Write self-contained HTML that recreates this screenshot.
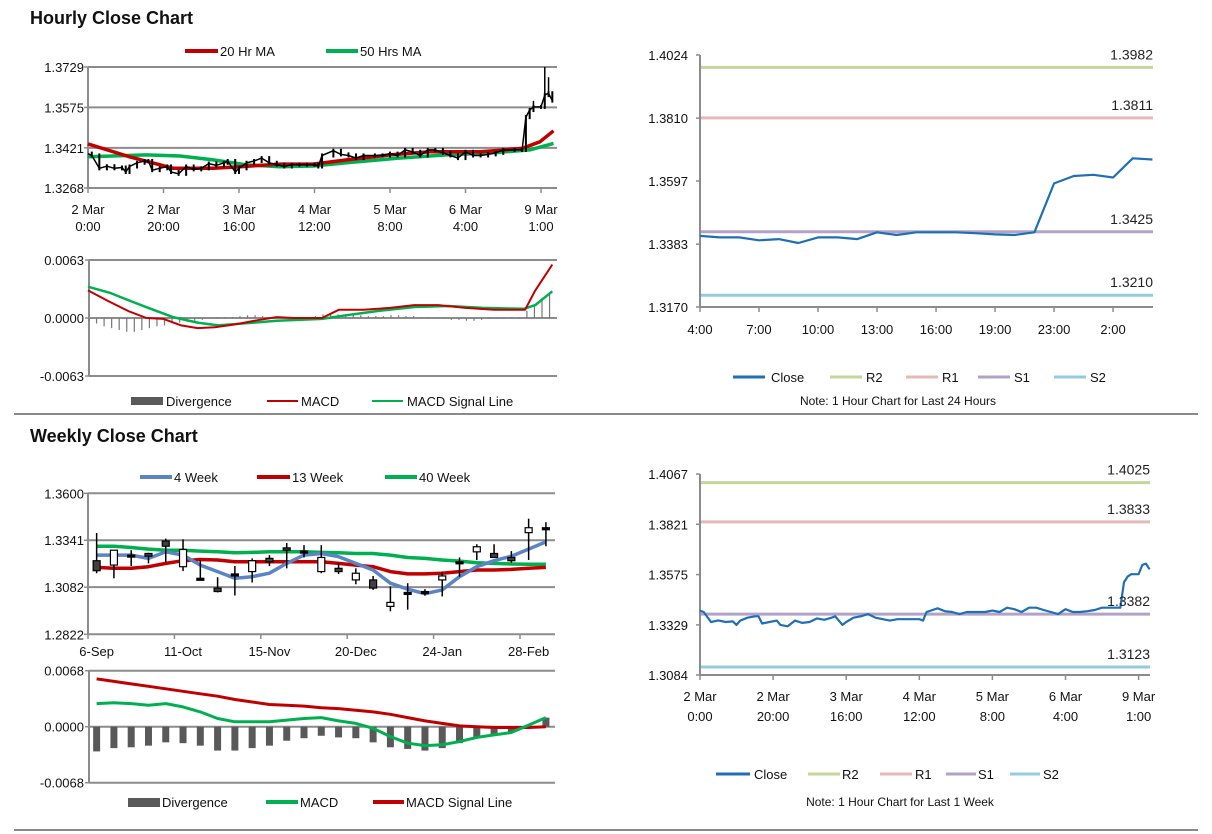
<!DOCTYPE html>
<html><head><meta charset="utf-8"><title>Hourly and Weekly Close Charts</title>
<style>
html,body{margin:0;padding:0;background:#fff;}
svg{display:block;font-family:"Liberation Sans",Arial,sans-serif;}
.tk{font-size:13px;fill:#111;}
.lg{font-size:13px;fill:#111;}
.ttl{font-size:18px;font-weight:bold;fill:#111;}
.lv{font-size:14px;fill:#222;}
</style></head>
<body>
<svg id="chart" width="1212" height="834" viewBox="0 0 1212 834" xmlns="http://www.w3.org/2000/svg">
<rect x="0" y="0" width="1212" height="834" fill="#fff"/>
<text class="ttl" x="30" y="24">Hourly Close Chart</text>
<text class="ttl" x="30" y="442">Weekly Close Chart</text>
<line x1="14" y1="414" x2="1198" y2="414" stroke="#8a8a8a" stroke-width="2"/>
<line x1="14" y1="830" x2="1198" y2="830" stroke="#8a8a8a" stroke-width="2"/>

<!-- legends -->
<g>
<line x1="185" y1="51" x2="218" y2="51" stroke="#c00000" stroke-width="4"/><text class="lg" x="220" y="56">20 Hr MA</text>
<line x1="326" y1="51" x2="358" y2="51" stroke="#00b050" stroke-width="4"/><text class="lg" x="360" y="56">50 Hrs MA</text>
</g>
<g>
<rect x="131" y="397" width="32" height="8" fill="#5a5a5a"/><text class="lg" x="166" y="406">Divergence</text>
<line x1="267" y1="401" x2="298" y2="401" stroke="#c00000" stroke-width="2"/><text class="lg" x="301" y="406">MACD</text>
<line x1="372" y1="401" x2="403" y2="401" stroke="#00b050" stroke-width="2"/><text class="lg" x="407" y="406">MACD Signal Line</text>
</g>
<g>
<line x1="140" y1="477" x2="172" y2="477" stroke="#5b84c4" stroke-width="4"/><text class="lg" x="174" y="482">4 Week</text>
<line x1="257" y1="477" x2="290" y2="477" stroke="#c00000" stroke-width="4"/><text class="lg" x="292" y="482">13 Week</text>
<line x1="385" y1="477" x2="417" y2="477" stroke="#00b050" stroke-width="4"/><text class="lg" x="419" y="482">40 Week</text>
</g>
<g>
<rect x="128" y="798" width="32" height="9" fill="#5a5a5a"/><text class="lg" x="162" y="807">Divergence</text>
<line x1="266" y1="802" x2="298" y2="802" stroke="#00b050" stroke-width="4"/><text class="lg" x="300" y="807">MACD</text>
<line x1="373" y1="802" x2="404" y2="802" stroke="#c00000" stroke-width="4"/><text class="lg" x="406" y="807">MACD Signal Line</text>
</g>
<g>
<line x1="733" y1="377" x2="765" y2="377" stroke="#1f6fb5" stroke-width="3"/><text class="lg" x="771" y="382">Close</text>
<line x1="830" y1="377" x2="862" y2="377" stroke="#c3d69b" stroke-width="3"/><text class="lg" x="866" y="382">R2</text>
<line x1="906" y1="377" x2="938" y2="377" stroke="#e6b9b8" stroke-width="3"/><text class="lg" x="942" y="382">R1</text>
<line x1="978" y1="377" x2="1010" y2="377" stroke="#b3a2c7" stroke-width="3"/><text class="lg" x="1014" y="382">S1</text>
<line x1="1054" y1="377" x2="1086" y2="377" stroke="#93cddd" stroke-width="3"/><text class="lg" x="1090" y="382">S2</text>
<text x="898" y="405" font-size="12" text-anchor="middle" fill="#111">Note: 1 Hour Chart for Last 24 Hours</text>
</g>
<g>
<line x1="716" y1="774" x2="750" y2="774" stroke="#1f6fb5" stroke-width="3"/><text class="lg" x="754" y="779">Close</text>
<line x1="808" y1="774" x2="840" y2="774" stroke="#c3d69b" stroke-width="3"/><text class="lg" x="842" y="779">R2</text>
<line x1="880" y1="774" x2="912" y2="774" stroke="#e6b9b8" stroke-width="3"/><text class="lg" x="915" y="779">R1</text>
<line x1="946" y1="774" x2="976" y2="774" stroke="#b3a2c7" stroke-width="3"/><text class="lg" x="978" y="779">S1</text>
<line x1="1010" y1="774" x2="1040" y2="774" stroke="#93cddd" stroke-width="3"/><text class="lg" x="1043" y="779">S2</text>
<text x="900" y="806" font-size="12" text-anchor="middle" fill="#111">Note: 1 Hour Chart for  Last 1 Week</text>
</g>
</svg>
<script>
// ===== data =====
const hourTickHours=[0,20,40,60,80,100,120];
const hourTickDays=['2 Mar','2 Mar','3 Mar','4 Mar','5 Mar','6 Mar','9 Mar'];
const hourTickTimes=['0:00','20:00','16:00','12:00','8:00','4:00','1:00'];
const weekHours=[0,1,3,5,7,9,10,11,13,15,16,17,19,21,22,24,26,28,30,32,34,36,37,39,40,42,44,46,48,50,52,54,56,58,60,61,62,65,67,69,71,73,76,78,80,82,84,86,88,90,92,94,96,98,100,102,104,106,108,110,113,115,116,117,118,120,121,122,123];
const weekClose=[1.3399,1.3392,1.3343,1.3351,1.3343,1.3346,1.3329,1.3350,1.3364,1.3371,1.3371,1.3336,1.3343,1.3350,1.3329,1.3322,1.3350,1.3339,1.3343,1.3361,1.3354,1.3364,1.3371,1.3329,1.3343,1.3364,1.3371,1.3382,1.3364,1.3357,1.3350,1.3357,1.3357,1.3357,1.3357,1.3350,1.3392,1.3410,1.3396,1.3392,1.3382,1.3392,1.3392,1.3392,1.3399,1.3392,1.3413,1.3406,1.3392,1.3413,1.3413,1.3402,1.3392,1.3382,1.3406,1.3392,1.3392,1.3396,1.3402,1.3413,1.3413,1.3413,1.3538,1.3565,1.3577,1.3577,1.3622,1.3629,1.3601];
const peakHours=[118,121,122];
const peakHighs=[1.3600,1.3729,1.3690];
const ma20Hours=[0,11,22.6,33.2,40.3,50.9,59.7,68.5,80,90.6,104,115,119.7,123.3];
const ma20Values=[1.3436,1.3387,1.3343,1.3343,1.3349,1.3359,1.3359,1.3375,1.3394,1.3406,1.3406,1.3419,1.3444,1.3486];
const ma50Hours=[0,15.5,24.4,33.2,42,50.9,59.7,68.5,81.8,95,108,117,123.3];
const ma50Values=[1.3387,1.3394,1.3390,1.3375,1.3356,1.3349,1.3352,1.3364,1.3381,1.3394,1.3403,1.3413,1.3438];
const hMacdHours=[0,5.5,11,15.5,20,24.7,29,33.6,39,45.5,50,54.6,62,66.5,73,80,86.4,92.8,100,107.6,115.8,118.5,123];
const hMacdValues=[0.0030,0.0018,0.0007,0.0000,-0.0001,-0.0008,-0.0011,-0.0010,-0.0007,-0.0002,0.0001,0.0000,0.0000,0.0009,0.0009,0.0011,0.0014,0.0014,0.0011,0.0009,0.0009,0.0030,0.0058];
const hSignalHours=[0,6,11.5,16,22.5,29,34.5,41,50,62,68.5,77.5,86.5,95.5,104.5,115.5,118.5,123];
const hSignalValues=[0.0034,0.0027,0.0018,0.0011,0.0001,-0.0005,-0.0008,-0.0006,-0.0003,-0.0001,0.0003,0.0008,0.0012,0.0013,0.0011,0.0010,0.0014,0.0029];
const hDivergence=[-0.0003,-0.0006,-0.0009,-0.0011,-0.0013,-0.0015,-0.0015,-0.0013,-0.0011,-0.0009,-0.0008,-0.0006,-0.0005,-0.0004,-0.0003,-0.0002,-0.0001,0.0001,0.0001,0.0001,0.0002,0.0003,0.0003,0.0002,0.0001,0.0000,0.0001,0.0001,0.0001,0.0001,0.0002,0.0004,0.0005,0.0004,0.0004,0.0003,0.0003,0.0002,0.0002,0.0002,0.0003,0.0003,0.0002,0.0002,0.0001,0.0001,0.0000,-0.0001,-0.0002,-0.0002,-0.0003,-0.0003,-0.0002,-0.0001,0.0000,0.0000,0.0001,0.0001,0.0008,0.0015,0.0022,0.0028];
const dayTimes=['4:00','7:00','10:00','13:00','16:00','19:00','23:00','2:00'];
const dayClose=[1.3411,1.3406,1.3406,1.3396,1.3400,1.3387,1.3406,1.3406,1.3400,1.3423,1.3414,1.3423,1.3423,1.3423,1.3420,1.3416,1.3414,1.3423,1.3589,1.3614,1.3618,1.3609,1.3674,1.3670];
const dayLevels=[1.3982,1.3811,1.3425,1.3210];
const weekLevels=[1.4025,1.3833,1.3382,1.3123];
const levelColors=['#c3d69b','#e6b9b8','#b3a2c7','#93cddd'];
const weeklyLabels=['6-Sep','11-Oct','15-Nov','20-Dec','24-Jan','28-Feb'];
const wOpen=[1.3228,1.3204,1.3259,1.3268,1.3337,1.3195,1.3131,1.3077,1.3155,1.3168,1.3241,1.3299,1.3281,1.3168,1.3186,1.3122,1.3122,1.2976,1.3053,1.3058,1.3122,1.3222,1.3277,1.3268,1.3246,1.3383,1.3410];
const wClose=[1.3173,1.3286,1.3259,1.3253,1.3308,1.3290,1.3131,1.3058,1.3155,1.3228,1.3222,1.3286,1.3281,1.3246,1.3168,1.3159,1.3077,1.2998,1.3053,1.3058,1.3144,1.3222,1.3305,1.3246,1.3228,1.3410,1.3410];
const wHigh=[1.3381,1.3286,1.3286,1.3272,1.3350,1.3346,1.3232,1.3137,1.3199,1.3241,1.3259,1.3326,1.3314,1.3314,1.3217,1.3186,1.3144,1.3086,1.3104,1.3071,1.3168,1.3246,1.3319,1.3319,1.3281,1.3460,1.3441];
const wLow=[1.3159,1.3131,1.3199,1.3213,1.3222,1.3171,1.3122,1.3053,1.3036,1.3108,1.3199,1.3186,1.3246,1.3159,1.3155,1.3098,1.3067,1.2949,1.2958,1.3035,1.3031,1.3140,1.3232,1.3246,1.3217,1.3232,1.3308];
const ma4=[1.3259,1.3259,1.3259,1.3241,1.3277,1.3259,1.3204,1.3168,1.3131,1.3140,1.3159,1.3213,1.3259,1.3268,1.3250,1.3213,1.3177,1.3104,1.3071,1.3046,1.3067,1.3140,1.3195,1.3228,1.3253,1.3292,1.3332];
const ma13=[1.3191,1.3186,1.3186,1.3195,1.3213,1.3228,1.3235,1.3232,1.3222,1.3222,1.3222,1.3222,1.3222,1.3222,1.3213,1.3204,1.3195,1.3168,1.3155,1.3155,1.3159,1.3168,1.3177,1.3177,1.3180,1.3186,1.3191];
const ma40=[1.3308,1.3308,1.3301,1.3292,1.3286,1.3286,1.3281,1.3277,1.3272,1.3274,1.3277,1.3277,1.3277,1.3274,1.3272,1.3268,1.3268,1.3259,1.3246,1.3241,1.3232,1.3226,1.3217,1.3213,1.3210,1.3208,1.3208];
const wDivergence=[-0.0030,-0.0026,-0.0025,-0.0023,-0.0019,-0.0020,-0.0023,-0.0029,-0.0029,-0.0026,-0.0023,-0.0017,-0.0014,-0.0011,-0.0013,-0.0014,-0.0019,-0.0025,-0.0027,-0.0029,-0.0026,-0.0020,-0.0014,-0.0010,-0.0006,-0.0002,0.0011];
const wMacd=[0.0028,0.0029,0.0028,0.0026,0.0028,0.0024,0.0018,0.0010,0.0006,0.0006,0.0006,0.0008,0.0010,0.0011,0.0007,0.0004,-0.0002,-0.0012,-0.0020,-0.0023,-0.0022,-0.0018,-0.0013,-0.0010,-0.0007,0.0002,0.0011];
const wSignal=[0.0058,0.0055,0.0052,0.0049,0.0046,0.0043,0.0040,0.0037,0.0033,0.0030,0.0027,0.0026,0.0025,0.0023,0.0022,0.0020,0.0018,0.0015,0.0011,0.0007,0.0004,0.0001,0.0000,-0.0001,-0.0001,-0.0001,0.0000];
const p1Ticks=[1.3729,1.3575,1.3421,1.3268];
const m1Ticks=[0.0063,0,-0.0063];
const p2Ticks=[1.4024,1.3810,1.3597,1.3383,1.3170];
const wTicks=[1.3600,1.3341,1.3082,1.2822];
const m2Ticks=[0.0068,0,-0.0068];
const p3Ticks=[1.4067,1.3821,1.3575,1.3329,1.3084];

// ===== scales =====
const xH1=h=>88+h*3.775;
const yP1=v=>188-(v-1.3268)/0.0461*121;
const yM1=v=>318-v/0.0063*58;
const xD=i=>700+i*19.67;
const yP2=v=>307-(v-1.3170)/0.0854*252;
const xW=i=>88+(i+0.5)*17.28;
const yW=v=>634.3-(v-1.2822)/0.0778*141;
const yM2=v=>726.7-v/0.0068*56;
const xH3=h=>700+h*3.655;
const yP3=v=>675-(v-1.3084)/0.0983*201;

const NS='http://www.w3.org/2000/svg';
const root=document.getElementById('chart');
function mk(tag,attrs){const e=document.createElementNS(NS,tag);for(const k in attrs)e.setAttribute(k,attrs[k]);root.appendChild(e);return e;}
function pts(xs,ys){return xs.map((x,i)=>x.toFixed(1)+','+ys[i].toFixed(1)).join(' ');}
function fmt(v){return v.toFixed(4);}

function yAxis(ticks,ysc,x0,x1,labelX,grid,name){
  ticks.forEach(t=>{
    const y=ysc(t);
    if(grid){
      const g=mk('line',{x1:x0,y1:y,x2:x1,y2:y,stroke:'#8c8c8c','stroke-width':2});
      
      
    }
    const tk=mk('line',{x1:x0-4,y1:y,x2:x0,y2:y,stroke:'#8c8c8c','stroke-width':1.5});
    
    
    const tx=mk('text',{x:labelX,y:y+5,'text-anchor':'end','class':'tk'});
    tx.textContent=fmt(t);
    
    
  });
  const ax=mk('line',{x1:x0,y1:ysc(ticks[0]),x2:x0,y2:ysc(ticks[ticks.length-1]),stroke:'#8c8c8c','stroke-width':2});
  
  
}
function line(xs,ys,color,w,name){
  const p=mk('polyline',{points:pts(xs,ys),fill:'none',stroke:color,'stroke-width':w,'stroke-linejoin':'round'});
  
  
  return p;
}

// ===== Chart 1: hourly candles with MAs =====
yAxis(p1Ticks,yP1,88,557,84,true,'hourly-price');
hourTickHours.forEach((h,i)=>{
  const x=xH1(h);
  const t=mk('line',{x1:x,y1:188,x2:x,y2:193,stroke:'#8c8c8c','stroke-width':1.5});
  
  
  const a=mk('text',{x:x,y:214,'text-anchor':'middle','class':'tk'});a.textContent=hourTickDays[i];
  
  
  const b=mk('text',{x:x,y:231,'text-anchor':'middle','class':'tk'});b.textContent=hourTickTimes[i];
  
  
});
line(ma50Hours.map(xH1),ma50Values.map(yP1),'#00b050',3.5,'ma50-line');
line(ma20Hours.map(xH1),ma20Values.map(yP1),'#c00000',3.5,'ma20-line');
weekHours.forEach((h,i)=>{
  if(i===0)return;
  const x=xH1(h), ya=yP1(weekClose[i-1]), yb=yP1(weekClose[i]);
  const c=mk('line',{x1:x,y1:Math.min(ya,yb)-2,x2:x,y2:Math.max(ya,yb)+2,stroke:'#000','stroke-width':2});
  
  
});
line(weekHours.map(xH1),weekClose.map(yP1),'#000',1.5,'hourly-close-trace');
peakHours.forEach((h,i)=>{
  const k=weekHours.indexOf(h);
  const c=mk('line',{x1:xH1(h),y1:yP1(peakHighs[i]),x2:xH1(h),y2:yP1(weekClose[k]),stroke:'#000','stroke-width':1.5});
  
  
});

// ===== Chart 2: hourly MACD =====
yAxis(m1Ticks,yM1,89,557,84,true,'hourly-macd');
hDivergence.forEach((v,i)=>{
  const x=xH1(i*2)+1, y0=yM1(0), y1=yM1(v);
  const b=mk('rect',{x:x-0.6,y:Math.min(y0,y1),width:1.2,height:Math.max(0.5,Math.abs(y1-y0)),fill:'#777'});
  
  
});
line(hSignalHours.map(xH1),hSignalValues.map(yM1),'#00b050',2.5,'hourly-macd-signal-line');
line(hMacdHours.map(xH1),hMacdValues.map(yM1),'#c00000',2,'hourly-macd-line');

// ===== Chart 3: last 24 hours =====
(function(){
  p2Ticks.forEach(t=>{
    const y=yP2(t);
    const tk=mk('line',{x1:696,y1:y,x2:700,y2:y,stroke:'#8c8c8c','stroke-width':1.5});
    
    
    const tx=mk('text',{x:688,y:y+5,'text-anchor':'end','class':'tk'});tx.textContent=fmt(t);
    
    
  });
  const ax=mk('line',{x1:700,y1:55,x2:700,y2:307,stroke:'#8c8c8c','stroke-width':2});
  
  
  const bx=mk('line',{x1:700,y1:307,x2:1153,y2:307,stroke:'#8c8c8c','stroke-width':2});
  
  
  dayTimes.forEach((t,i)=>{
    const x=xD(i*3);
    const tk=mk('line',{x1:x,y1:307,x2:x,y2:312,stroke:'#8c8c8c','stroke-width':1.5});
    
    
    const tx=mk('text',{x:x,y:334,'text-anchor':'middle','class':'tk'});tx.textContent=t;
    
    
  });
  dayLevels.forEach((v,i)=>{
    const y=yP2(v);
    const l=mk('line',{x1:701,y1:y,x2:1153,y2:y,stroke:levelColors[i],'stroke-width':3});
    
    
  });
  line(dayClose.map((v,i)=>xD(i)),dayClose.map(yP2),'#1f6fb5',2.2,'day-close-line');
  dayLevels.forEach((v,i)=>{
    const tx=mk('text',{x:1153,y:yP2(v)-8,'text-anchor':'end','class':'lv'});tx.textContent=fmt(v);
    
    
  });
})();

// ===== Chart 4: weekly candles =====
yAxis(wTicks,yW,88,555,84,true,'weekly-price');
for(let i=0;i<=27;i+=5){
  const x=88+i*17.28;
  const t=mk('line',{x1:x,y1:634,x2:x,y2:639,stroke:'#8c8c8c','stroke-width':1.5});
  
  
}
weeklyLabels.forEach((l,i)=>{
  const tx=mk('text',{x:xW(i*5),y:656,'text-anchor':'middle','class':'tk'});tx.textContent=l;
  
  
});
line(ma40.map((v,i)=>xW(i)),ma40.map(yW),'#00b050',3.5,'ma40-week-line');
line(ma13.map((v,i)=>xW(i)),ma13.map(yW),'#c00000',3.5,'ma13-week-line');
line(ma4.map((v,i)=>xW(i)),ma4.map(yW),'#5b84c4',3.5,'ma4-week-line');
wOpen.forEach((o,i)=>{
  const x=xW(i), c=wClose[i];
  const w=mk('line',{x1:x,y1:yW(wHigh[i]),x2:x,y2:yW(wLow[i]),stroke:'#000','stroke-width':1.5});
  
  
  const top=yW(Math.max(o,c)), bot=yW(Math.min(o,c));
  const b=mk('rect',{x:x-3.5,y:top,width:7,height:Math.max(2,bot-top),fill:c>o?'#fff':(c<o?'#404040':'#000'),stroke:'#000','stroke-width':1.2});
  
  
});

// ===== Chart 5: weekly MACD =====
yAxis(m2Ticks,yM2,89,555,84,true,'weekly-macd');
wDivergence.forEach((v,i)=>{
  const x=xW(i), y0=yM2(0), y1=yM2(v);
  const b=mk('rect',{x:x-3.5,y:Math.min(y0,y1),width:7,height:Math.abs(y1-y0),fill:'#595959'});
  
  
});
line(wSignal.map((v,i)=>xW(i)),wSignal.map(yM2),'#c00000',3,'weekly-macd-signal-line');
line(wMacd.map((v,i)=>xW(i)),wMacd.map(yM2),'#00b050',3,'weekly-macd-line');

// ===== Chart 6: last week hourly line =====
(function(){
  p3Ticks.forEach(t=>{
    const y=yP3(t);
    const tk=mk('line',{x1:696,y1:y,x2:700,y2:y,stroke:'#8c8c8c','stroke-width':1.5});
    
    
    const tx=mk('text',{x:688,y:y+5,'text-anchor':'end','class':'tk'});tx.textContent=fmt(t);
    
    
  });
  const ax=mk('line',{x1:700,y1:474,x2:700,y2:675,stroke:'#8c8c8c','stroke-width':2});
  
  
  const bx=mk('line',{x1:700,y1:675,x2:1150,y2:675,stroke:'#8c8c8c','stroke-width':2});
  
  
  hourTickHours.forEach((h,i)=>{
    const x=xH3(h);
    const tk=mk('line',{x1:x,y1:675,x2:x,y2:680,stroke:'#8c8c8c','stroke-width':1.5});
    
    
    const a=mk('text',{x:x,y:701,'text-anchor':'middle','class':'tk'});a.textContent=hourTickDays[i];
    
    
    const b=mk('text',{x:x,y:721,'text-anchor':'middle','class':'tk'});b.textContent=hourTickTimes[i];
    
    
  });
  weekLevels.forEach((v,i)=>{
    const y=yP3(v);
    const l=mk('line',{x1:701,y1:y,x2:1150,y2:y,stroke:levelColors[i],'stroke-width':3});
    
    
  });
  line(weekHours.map(xH3),weekClose.map(yP3),'#1f6fb5',2.2,'week-close-line');
  weekLevels.forEach((v,i)=>{
    const tx=mk('text',{x:1150,y:yP3(v)-8,'text-anchor':'end','class':'lv'});tx.textContent=fmt(v);
    
    
  });
})();
</script>
</body></html>
